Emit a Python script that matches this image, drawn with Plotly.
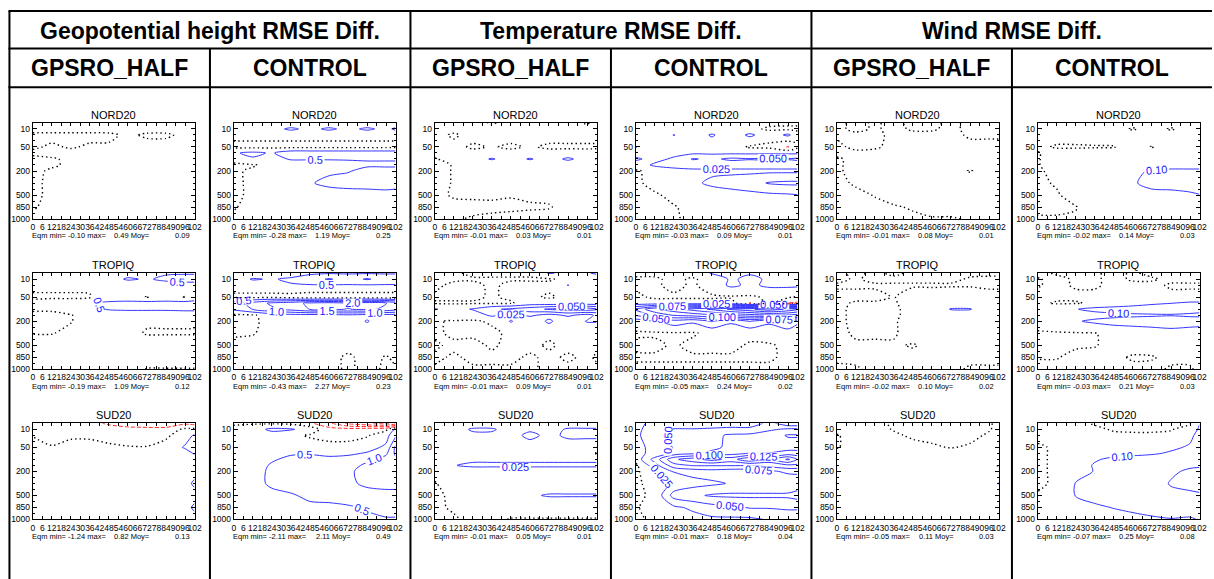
import plotly.graph_objects as go

W, H = 1214, 579
FONT = "Liberation Sans, Arial, Helvetica, sans-serif"
BLUE = "#3434ff"
RED = "#ff2a2a"

# ---------------- axes / categories ----------------
hours = [0, 12, 24, 36, 48, 60, 72, 84, 96, 102]
hour_ticks = [0, 6, 12, 18, 24, 30, 36, 42, 48, 54, 60, 66, 72, 78, 84, 90, 96, 102]
pressure_axis = [5, 10, 20, 30, 50, 70, 100, 150, 200, 250, 300, 400, 500, 700, 850, 925, 1000]
pressure_labels = [10, 50, 200, 500, 850, 1000]
pressure_grid = [5, 10, 20, 50, 70, 100, 150, 200, 300, 500, 850, 1000]

variables = ["Geopotential height RMSE Diff.", "Temperature RMSE Diff.", "Wind RMSE Diff."]
experiments = ["GPSRO_HALF", "CONTROL"]
regions = ["NORD20", "TROPIQ", "SUD20"]
contour_step = [0.5, 0.025, 0.1]
label_fmt = [".1f", ".3f", ".2f"]

# Eqm statistics  [column][region]
eqm_min = [[-0.10, -0.19, -1.24], [-0.28, -0.43, -2.11], [-0.01, -0.01, -0.01],
           [-0.03, -0.05, -0.01], [-0.01, -0.02, -0.05], [-0.02, -0.03, -0.07]]
eqm_max = [[0.49, 1.09, 0.82], [1.19, 2.27, 2.11], [0.03, 0.09, 0.05],
           [0.09, 0.24, 0.18], [0.08, 0.10, 0.11], [0.14, 0.21, 0.25]]
eqm_moy = [[0.09, 0.12, 0.13], [0.25, 0.23, 0.49], [0.01, 0.01, 0.01],
           [0.01, 0.02, 0.04], [0.01, 0.02, 0.03], [0.03, 0.03, 0.08]]

# ---------------- RMSE difference fields (rows = pressure_grid, cols = hours) ----------------
z_geo_gpsro_nord = [
    [0.10, 0.10, 0.10, 0.10, 0.10, 0.10, 0.10, 0.10, 0.10, 0.10],
    [0.10, 0.10, 0.10, 0.10, 0.10, 0.10, 0.10, 0.10, 0.10, 0.10],
    [-0.06, -0.06, -0.06, -0.06, -0.05, 0.05, -0.04, -0.04, 0.06, 0.04],
    [-0.03, 0.03, -0.02, 0.03, 0.03, 0.10, 0.10, 0.10, 0.10, 0.05],
    [0.04, 0.10, 0.06, 0.15, 0.15, 0.15, 0.15, 0.15, 0.15, 0.15],
    [-0.05, -0.03, 0.05, 0.15, 0.20, 0.20, 0.20, 0.20, 0.20, 0.20],
    [-0.06, -0.03, 0.04, 0.15, 0.20, 0.20, 0.20, 0.20, 0.20, 0.20],
    [-0.05, 0.03, 0.10, 0.15, 0.20, 0.25, 0.25, 0.20, 0.20, 0.20],
    [-0.05, 0.05, 0.15, 0.20, 0.25, 0.30, 0.30, 0.25, 0.20, 0.20],
    [-0.05, 0.05, 0.15, 0.20, 0.25, 0.30, 0.30, 0.25, 0.20, 0.20],
    [-0.02, 0.06, 0.15, 0.20, 0.20, 0.20, 0.20, 0.20, 0.20, 0.20],
    [0.05, 0.10, 0.10, 0.15, 0.15, 0.15, 0.15, 0.15, 0.15, 0.15],
]
z_geo_gpsro_trop = [
    [0.10, 0.10, 0.10, 0.10, 0.20, 0.30, 0.30, 0.45, 0.45, 0.45],
    [0.10, 0.10, 0.10, 0.20, 0.30, 0.56, 0.45, 0.60, 0.70, 0.70],
    [0.05, 0.05, 0.05, 0.05, 0.10, 0.20, 0.20, 0.30, 0.30, 0.30],
    [-0.03, -0.03, -0.03, -0.02, 0.20, 0.20, -0.02, 0.20, -0.02, 0.20],
    [0.05, 0.10, 0.10, 0.45, 0.60, 0.65, 0.70, 0.65, 0.70, 0.70],
    [0.03, 0.03, 0.10, 0.30, 0.55, 0.60, 0.60, 0.60, 0.65, 0.65],
    [-0.05, -0.05, -0.01, 0.10, 0.10, 0.10, 0.10, 0.10, 0.10, 0.10],
    [-0.05, -0.05, -0.01, 0.10, 0.10, 0.10, 0.05, 0.05, 0.05, 0.05],
    [-0.01, -0.01, 0.05, 0.10, 0.10, 0.10, -0.03, -0.03, -0.03, -0.03],
    [0.10, 0.10, 0.10, 0.15, 0.15, 0.15, 0.20, 0.20, 0.20, 0.20],
    [0.10, 0.10, 0.10, 0.15, 0.15, 0.15, 0.10, 0.10, 0.10, 0.10],
    [0.10, 0.10, 0.10, 0.10, 0.10, 0.10, -0.01, -0.01, -0.01, -0.01],
]
z_geo_gpsro_sud = [
    [-0.10, -0.20, -0.20, -0.30, -0.60, -0.80, -0.90, -0.90, -0.60, -0.70],
    [-0.05, -0.10, -0.10, -0.10, -0.20, -0.30, -0.30, -0.30, 0.10, 0.10],
    [-0.01, -0.05, -0.05, -0.05, -0.10, -0.15, -0.10, -0.10, 0.30, 0.55],
    [0.10, 0.01, 0.10, 0.10, 0.05, 0.02, 0.01, 0.20, 0.55, 0.65],
    [0.15, 0.15, 0.15, 0.15, 0.15, 0.15, 0.15, 0.20, 0.30, 0.55],
    [0.15, 0.15, 0.15, 0.15, 0.15, 0.15, 0.15, 0.20, 0.20, 0.30],
    [0.15, 0.15, 0.15, 0.15, 0.15, 0.15, 0.15, 0.20, 0.20, 0.20],
    [0.15, 0.15, 0.15, 0.15, 0.15, 0.15, 0.15, 0.20, 0.20, 0.30],
    [0.15, 0.15, 0.15, 0.15, 0.15, 0.15, 0.15, 0.20, 0.30, 0.60],
    [0.15, 0.15, 0.15, 0.15, 0.15, 0.15, 0.15, 0.20, 0.30, 0.30],
    [0.15, 0.15, 0.15, 0.15, 0.15, 0.15, 0.15, 0.20, 0.30, 0.60],
    [0.15, 0.15, 0.15, 0.15, 0.15, 0.15, 0.15, 0.20, 0.30, 0.30],
]
z_geo_ctrl_nord = [
    [0.10, 0.10, 0.10, 0.10, 0.10, 0.10, 0.10, 0.10, 0.10, 0.10],
    [0.10, 0.10, 0.30, 0.60, 0.35, 0.60, 0.35, 0.60, 0.35, 0.60],
    [0.10, 0.10, 0.10, 0.10, 0.10, 0.10, 0.10, 0.10, 0.10, 0.10],
    [-0.10, -0.10, -0.10, -0.10, -0.10, -0.10, -0.10, -0.10, -0.10, -0.10],
    [0.45, 0.60, 0.45, 0.80, 0.80, 0.80, 0.80, 0.80, 0.80, 0.80],
    [0.10, 0.45, 0.30, 0.55, 0.55, 0.55, 0.55, 0.55, 0.55, 0.55],
    [-0.05, -0.03, 0.10, 0.20, 0.20, 0.20, 0.30, 0.40, 0.40, 0.40],
    [-0.05, 0.05, 0.10, 0.20, 0.30, 0.40, 0.45, 0.70, 0.70, 0.70],
    [-0.05, 0.05, 0.15, 0.30, 0.45, 0.65, 0.80, 0.90, 0.90, 0.90],
    [-0.05, 0.05, 0.15, 0.20, 0.30, 0.20, 0.15, 0.10, 0.20, 0.10],
    [-0.02, 0.08, 0.15, 0.20, 0.20, 0.20, 0.20, 0.20, 0.20, 0.20],
    [0.05, 0.10, 0.10, 0.15, 0.15, 0.15, 0.15, 0.15, 0.15, 0.15],
]
z_geo_ctrl_trop = [
    [0.10, 0.10, 0.10, 0.20, 0.40, 0.45, 0.45, 0.45, 0.45, 0.45],
    [0.20, 0.55, 0.45, 0.60, 0.80, 1.05, 0.80, 1.05, 0.80, 0.80],
    [0.10, 0.20, 0.20, 0.45, 0.47, 0.47, 0.47, 0.47, 0.47, 0.47],
    [-0.05, -0.10, -0.10, -0.20, -0.30, -0.30, -0.30, -0.30, -0.30, -0.30],
    [0.70, 1.20, 1.60, 1.80, 2.10, 2.20, 2.10, 2.25, 2.02, 1.80],
    [0.60, 1.02, 1.40, 1.70, 2.02, 2.10, 1.98, 2.10, 1.90, 1.70],
    [-0.10, -0.05, 0.20, 0.30, 0.30, 0.30, 0.40, 0.30, 0.30, 0.30],
    [-0.10, -0.05, 0.10, 0.10, 0.10, 0.10, 0.10, 0.55, 0.10, 0.10],
    [-0.05, -0.02, 0.10, 0.10, 0.10, 0.10, 0.10, 0.10, 0.10, 0.10],
    [0.10, 0.10, 0.10, 0.10, 0.10, 0.10, 0.10, 0.10, 0.10, 0.10],
    [0.10, 0.10, 0.10, 0.10, 0.10, 0.10, -0.05, 0.10, -0.02, 0.05],
    [0.10, 0.10, 0.10, 0.10, 0.10, 0.10, -0.05, 0.10, -0.05, -0.02],
]
z_geo_ctrl_sud = [
    [-0.05, -0.05, -0.05, -0.10, -0.40, -0.90, -1.60, -1.95, -2.10, -1.80],
    [0.10, 0.30, 0.60, 0.55, 0.30, -0.30, -0.30, -0.20, -0.10, 0.60],
    [0.10, 0.20, 0.30, 0.10, -0.05, -0.10, -0.10, -0.05, 0.30, 0.90],
    [0.10, 0.10, 0.20, 0.30, 0.20, 0.10, 0.10, 0.30, 0.60, 1.60],
    [0.20, 0.30, 0.30, 0.45, 0.45, 0.40, 0.40, 0.55, 0.90, 1.60],
    [0.20, 0.30, 0.45, 0.60, 0.70, 0.60, 0.70, 0.90, 1.20, 1.40],
    [0.20, 0.30, 0.55, 0.70, 0.80, 0.80, 0.80, 1.10, 1.30, 1.40],
    [0.20, 0.30, 0.60, 0.70, 0.80, 0.80, 0.90, 1.20, 1.30, 1.30],
    [0.20, 0.30, 0.60, 0.70, 0.80, 0.80, 0.90, 1.10, 1.20, 1.20],
    [0.20, 0.30, 0.35, 0.45, 0.60, 0.65, 0.70, 0.80, 0.80, 0.80],
    [0.20, 0.20, 0.20, 0.30, 0.40, 0.40, 0.45, 0.55, 0.70, 0.70],
    [0.20, 0.20, 0.20, 0.20, 0.30, 0.30, 0.30, 0.40, 0.45, 0.45],
]
z_tmp_gpsro_nord = [
    [0.010, 0.010, 0.010, -0.003, 0.010, 0.010, 0.010, 0.010, -0.003, 0.010],
    [0.010, 0.010, 0.010, 0.010, 0.010, 0.010, 0.010, 0.010, 0.010, 0.010],
    [0.010, -0.004, 0.010, 0.010, 0.010, 0.010, 0.010, 0.010, 0.010, 0.010],
    [0.008, 0.008, -0.004, 0.002, -0.004, 0.003, -0.004, -0.004, -0.004, -0.004],
    [0.008, 0.010, 0.008, 0.010, 0.008, 0.010, 0.008, 0.010, 0.008, 0.010],
    [-0.002, 0.010, 0.015, 0.027, 0.015, 0.027, 0.015, 0.029, 0.015, 0.027],
    [-0.005, 0.001, 0.010, 0.010, 0.010, 0.010, 0.010, 0.010, 0.010, 0.010],
    [-0.005, 0.001, 0.008, 0.008, 0.008, 0.008, 0.008, 0.008, 0.008, 0.008],
    [-0.005, 0.001, 0.008, 0.008, 0.008, 0.008, 0.008, 0.008, 0.008, 0.008],
    [-0.005, 0.002, 0.003, 0.003, 0.001, 0.003, 0.003, 0.006, 0.006, 0.006],
    [-0.005, -0.005, -0.005, -0.004, -0.003, -0.002, -0.001, 0.005, 0.005, 0.005],
    [-0.005, -0.002, 0.002, 0.004, 0.005, 0.006, 0.006, 0.006, 0.006, 0.006],
]
z_tmp_gpsro_trop = [
    [-0.003, -0.003, 0.004, 0.004, 0.004, 0.004, 0.027, 0.020, 0.022, 0.030],
    [-0.003, -0.003, -0.002, -0.002, -0.002, -0.002, -0.002, 0.005, 0.005, 0.005],
    [-0.004, 0.004, 0.004, -0.003, 0.004, 0.004, 0.004, 0.026, 0.005, 0.005],
    [0.003, 0.003, 0.003, -0.002, 0.003, 0.003, -0.002, 0.004, 0.004, 0.004],
    [-0.002, -0.002, -0.002, -0.002, -0.002, 0.010, 0.010, 0.010, 0.010, 0.010],
    [0.027, 0.015, 0.027, 0.045, 0.055, 0.065, 0.078, 0.085, 0.090, 0.080],
    [0.010, 0.020, 0.010, 0.030, 0.015, 0.030, 0.015, 0.030, 0.015, 0.030],
    [0.002, -0.002, -0.002, 0.002, 0.027, 0.005, 0.030, 0.005, 0.027, 0.027],
    [0.003, -0.003, -0.003, -0.003, 0.003, 0.003, 0.003, 0.003, 0.003, 0.003],
    [-0.002, 0.003, 0.004, -0.002, 0.004, 0.004, -0.002, 0.004, 0.004, 0.004],
    [0.003, -0.002, 0.003, 0.003, 0.003, -0.002, 0.003, -0.002, 0.003, -0.002],
    [-0.002, -0.002, -0.002, -0.002, -0.002, -0.002, 0.003, 0.003, 0.003, 0.003],
]
z_tmp_gpsro_sud = [
    [0.010, 0.010, 0.010, 0.010, 0.010, 0.010, 0.010, 0.010, 0.010, 0.010],
    [0.010, 0.015, 0.028, 0.028, 0.015, 0.020, 0.015, 0.028, 0.028, 0.028],
    [0.010, 0.015, 0.020, 0.020, 0.015, 0.032, 0.018, 0.030, 0.030, 0.030],
    [0.010, 0.010, 0.010, 0.010, 0.010, 0.012, 0.010, 0.012, 0.012, 0.012],
    [0.010, 0.010, 0.010, 0.010, 0.010, 0.010, 0.010, 0.010, 0.005, -0.002],
    [0.008, 0.015, 0.020, 0.020, 0.020, 0.020, 0.020, 0.020, 0.020, 0.020],
    [0.005, 0.024, 0.030, 0.030, 0.030, 0.030, 0.030, 0.030, 0.030, 0.030],
    [0.005, 0.010, 0.010, 0.010, 0.010, 0.010, 0.010, 0.010, 0.010, 0.010],
    [-0.001, 0.008, 0.010, 0.010, 0.010, 0.010, 0.010, 0.010, 0.010, 0.010],
    [-0.004, 0.004, 0.008, 0.008, 0.008, 0.022, 0.027, 0.027, 0.027, 0.027],
    [-0.003, 0.002, 0.008, 0.008, 0.008, 0.008, 0.008, 0.008, 0.008, 0.008],
    [-0.004, -0.002, 0.004, 0.004, -0.001, -0.001, -0.001, -0.001, -0.001, -0.001],
]
z_tmp_ctrl_nord = [
    [0.005, 0.005, 0.005, 0.005, 0.005, 0.005, 0.005, 0.005, 0.005, 0.005],
    [0.005, 0.005, 0.005, 0.005, 0.005, 0.005, 0.005, -0.003, -0.005, -0.005],
    [0.005, 0.005, 0.026, 0.010, 0.028, 0.010, 0.030, 0.010, 0.030, 0.010],
    [0.026, 0.010, 0.010, 0.010, 0.010, 0.010, -0.003, -0.005, -0.027, -0.005],
    [0.010, 0.010, 0.015, 0.020, 0.020, 0.020, 0.020, 0.020, 0.020, 0.020],
    [0.030, 0.015, 0.030, 0.052, 0.045, 0.055, 0.052, 0.055, 0.052, 0.055],
    [0.010, 0.030, 0.030, 0.035, 0.035, 0.035, 0.035, 0.035, 0.035, 0.035],
    [-0.002, 0.005, 0.020, 0.020, 0.020, 0.020, 0.020, 0.020, 0.020, 0.020],
    [-0.003, 0.005, 0.010, 0.020, 0.030, 0.035, 0.040, 0.052, 0.055, 0.055],
    [-0.003, -0.002, 0.004, 0.010, 0.012, 0.015, 0.018, 0.020, 0.022, 0.024],
    [-0.003, -0.003, -0.001, 0.004, 0.008, 0.008, 0.008, 0.008, 0.008, 0.008],
    [-0.003, -0.003, -0.002, 0.004, 0.008, 0.008, 0.008, 0.008, 0.008, 0.008],
]
z_tmp_ctrl_trop = [
    [0.005, 0.005, 0.005, 0.010, 0.027, 0.027, 0.027, 0.030, 0.030, 0.030],
    [-0.003, -0.003, 0.005, -0.003, 0.010, 0.028, 0.020, 0.028, 0.030, 0.030],
    [-0.003, -0.003, 0.005, -0.003, 0.010, 0.030, 0.020, 0.030, 0.030, 0.030],
    [0.004, -0.003, -0.003, -0.003, -0.003, -0.003, -0.003, 0.003, 0.003, -0.003],
    [0.010, 0.010, 0.010, 0.010, 0.010, 0.010, -0.027, 0.010, -0.026, -0.030],
    [0.080, 0.120, 0.140, 0.160, 0.180, 0.205, 0.220, 0.240, 0.220, 0.205],
    [0.052, 0.080, 0.102, 0.110, 0.120, 0.130, 0.140, 0.148, 0.148, 0.140],
    [0.010, 0.020, 0.040, 0.030, 0.052, 0.030, 0.052, 0.030, 0.052, 0.030],
    [-0.002, -0.002, -0.002, -0.002, 0.005, 0.005, 0.005, 0.010, 0.010, 0.010],
    [0.003, 0.003, -0.002, 0.004, 0.004, 0.004, -0.002, -0.002, 0.004, 0.004],
    [-0.002, -0.002, -0.002, -0.002, -0.002, -0.002, -0.002, -0.002, 0.003, 0.003],
    [0.003, 0.003, 0.003, 0.003, 0.003, 0.003, 0.003, 0.003, 0.003, 0.003],
]
z_tmp_ctrl_sud = [
    [0.020, 0.030, 0.030, 0.030, 0.030, 0.030, 0.030, 0.060, 0.030, 0.030],
    [0.020, 0.035, 0.052, 0.052, 0.055, 0.060, 0.060, 0.070, 0.080, 0.080],
    [0.020, 0.040, 0.060, 0.070, 0.070, 0.078, 0.080, 0.090, 0.102, 0.102],
    [0.020, 0.030, 0.052, 0.060, 0.070, 0.080, 0.080, 0.080, 0.090, 0.090],
    [0.020, 0.030, 0.060, 0.070, 0.080, 0.090, 0.102, 0.102, 0.110, 0.110],
    [0.010, 0.060, 0.120, 0.140, 0.160, 0.140, 0.170, 0.140, 0.180, 0.148],
    [-0.005, 0.040, 0.090, 0.102, 0.102, 0.102, 0.102, 0.110, 0.120, 0.120],
    [-0.005, 0.020, 0.052, 0.060, 0.065, 0.060, 0.060, 0.070, 0.080, 0.080],
    [-0.005, 0.010, 0.030, 0.040, 0.045, 0.052, 0.052, 0.052, 0.055, 0.060],
    [-0.005, 0.005, 0.060, 0.070, 0.078, 0.080, 0.080, 0.080, 0.080, 0.085],
    [-0.002, 0.008, 0.020, 0.030, 0.040, 0.045, 0.052, 0.052, 0.055, 0.055],
    [-0.003, 0.003, 0.010, 0.015, 0.020, 0.020, 0.020, 0.027, 0.030, 0.030],
]
z_wnd_gpsro_nord = [
    [-0.010, 0.010, -0.005, 0.010, -0.010, -0.010, 0.010, -0.010, -0.010, -0.010],
    [-0.010, 0.010, -0.005, 0.010, -0.005, -0.005, 0.010, -0.010, -0.010, -0.010],
    [-0.005, -0.010, -0.010, 0.010, 0.010, 0.010, 0.010, -0.005, -0.005, -0.005],
    [0.010, -0.010, -0.005, 0.010, 0.010, 0.010, 0.010, 0.010, 0.010, 0.010],
    [0.010, 0.010, 0.010, 0.020, 0.020, 0.020, 0.020, 0.020, 0.020, 0.020],
    [-0.005, 0.010, 0.020, 0.020, 0.020, 0.020, 0.020, 0.020, 0.020, 0.020],
    [-0.005, 0.010, 0.020, 0.030, 0.030, 0.030, 0.030, 0.030, 0.030, 0.030],
    [-0.005, 0.010, 0.020, 0.030, 0.030, 0.030, 0.030, -0.005, 0.030, 0.030],
    [-0.010, 0.005, 0.020, 0.030, 0.040, 0.040, 0.040, 0.040, 0.040, 0.040],
    [-0.010, -0.010, 0.002, 0.020, 0.030, 0.040, 0.040, 0.040, 0.040, 0.040],
    [-0.010, -0.010, -0.010, -0.005, 0.005, 0.020, 0.020, 0.020, 0.020, 0.020],
    [-0.010, -0.010, -0.010, -0.010, -0.010, -0.005, -0.005, 0.005, 0.005, 0.005],
]
z_wnd_gpsro_trop = [
    [0.010, -0.010, 0.010, -0.010, 0.010, 0.010, 0.010, 0.010, 0.010, 0.010],
    [0.010, -0.005, 0.010, 0.010, 0.010, 0.010, 0.010, -0.005, -0.010, -0.010],
    [-0.005, -0.005, -0.005, -0.005, -0.005, -0.005, -0.005, -0.005, -0.010, -0.010],
    [0.010, 0.010, 0.010, -0.002, 0.020, 0.020, 0.030, 0.030, 0.020, 0.020],
    [0.010, -0.005, -0.005, -0.005, 0.020, 0.030, 0.050, 0.050, 0.030, 0.020],
    [0.010, -0.010, -0.010, -0.010, 0.020, 0.040, 0.105, 0.105, 0.040, 0.030],
    [0.010, -0.010, -0.010, -0.010, 0.020, 0.030, 0.050, 0.050, 0.030, 0.020],
    [0.010, -0.010, -0.010, -0.005, 0.020, 0.020, 0.020, 0.020, 0.020, 0.020],
    [0.010, -0.005, -0.005, -0.005, 0.020, 0.020, 0.020, 0.020, 0.020, 0.020],
    [0.010, 0.005, 0.005, 0.005, -0.003, 0.010, 0.010, 0.010, 0.010, 0.010],
    [0.010, 0.010, 0.010, 0.010, 0.010, 0.010, 0.010, 0.010, 0.010, 0.010],
    [-0.010, -0.005, 0.010, 0.010, 0.010, 0.010, 0.010, -0.005, -0.005, -0.005],
]
z_wnd_gpsro_sud = [
    [0.010, 0.010, 0.010, -0.005, -0.010, -0.010, -0.010, -0.010, -0.005, 0.010],
    [0.010, 0.010, 0.010, -0.002, -0.010, -0.010, -0.010, -0.010, -0.003, 0.010],
    [-0.002, 0.010, 0.010, 0.005, -0.005, -0.010, -0.010, -0.010, 0.005, 0.010],
    [-0.002, 0.010, 0.010, 0.010, 0.010, 0.005, -0.002, 0.005, 0.010, 0.010],
    [0.010, 0.010, 0.020, 0.020, 0.020, 0.020, 0.020, 0.020, 0.020, 0.020],
    [0.010, 0.020, 0.020, 0.030, 0.030, 0.030, 0.030, 0.030, 0.030, 0.020],
    [0.010, 0.020, 0.030, 0.030, 0.030, 0.030, 0.030, 0.030, 0.020, -0.005],
    [0.010, 0.020, 0.030, 0.040, 0.040, 0.040, 0.040, 0.040, 0.040, 0.050],
    [0.010, 0.020, 0.030, 0.040, 0.040, 0.040, 0.040, 0.040, 0.050, 0.105],
    [0.010, 0.020, 0.030, 0.040, 0.040, 0.040, 0.040, 0.040, 0.050, 0.050],
    [0.010, 0.020, 0.030, 0.030, 0.030, 0.030, 0.030, 0.030, 0.030, 0.030],
    [0.010, 0.020, 0.020, 0.020, 0.020, 0.020, 0.020, 0.020, 0.020, 0.020],
]
z_wnd_ctrl_nord = [
    [0.020, 0.020, 0.020, 0.020, 0.020, 0.020, 0.020, 0.020, 0.020, 0.020],
    [0.020, 0.020, 0.020, 0.020, 0.020, -0.005, 0.020, -0.005, 0.020, 0.020],
    [0.020, 0.020, 0.020, 0.020, 0.020, 0.020, 0.020, 0.020, 0.020, 0.020],
    [0.010, -0.005, -0.005, -0.003, -0.002, 0.020, -0.002, 0.020, 0.020, 0.020],
    [-0.003, 0.020, 0.020, 0.020, 0.020, 0.020, 0.020, 0.020, 0.020, 0.020],
    [-0.003, 0.020, 0.020, 0.030, 0.030, 0.040, 0.040, 0.050, 0.050, 0.050],
    [-0.003, 0.020, 0.030, 0.040, 0.050, 0.060, 0.070, 0.080, 0.080, 0.080],
    [-0.005, 0.010, 0.030, 0.050, 0.060, 0.090, 0.105, 0.110, 0.110, 0.110],
    [-0.010, 0.005, 0.030, 0.050, 0.060, 0.090, 0.130, 0.140, 0.130, 0.130],
    [-0.010, -0.005, 0.020, 0.040, 0.050, 0.060, 0.070, 0.070, 0.090, 0.098],
    [-0.010, -0.010, -0.002, 0.020, 0.030, 0.030, 0.030, 0.030, 0.030, 0.030],
    [0.005, 0.005, 0.005, 0.020, 0.020, 0.020, 0.020, 0.020, 0.020, 0.020],
]
z_wnd_ctrl_trop = [
    [0.010, -0.005, -0.005, -0.005, 0.010, -0.005, 0.010, 0.010, 0.010, 0.010],
    [-0.003, 0.010, -0.005, -0.005, 0.010, -0.005, -0.005, 0.010, 0.010, 0.010],
    [-0.003, 0.010, -0.005, -0.005, 0.010, 0.010, 0.010, -0.005, -0.005, -0.005],
    [0.010, 0.010, 0.010, 0.010, 0.010, 0.010, 0.010, 0.010, 0.010, 0.010],
    [0.010, -0.005, -0.005, 0.010, 0.020, 0.050, 0.080, 0.098, 0.120, 0.120],
    [0.020, 0.040, 0.095, 0.130, 0.150, 0.160, 0.170, 0.160, 0.150, 0.130],
    [0.020, 0.030, 0.050, 0.060, 0.070, 0.080, 0.085, 0.090, 0.080, 0.080],
    [0.020, 0.040, 0.090, 0.120, 0.140, 0.150, 0.160, 0.190, 0.160, 0.150],
    [-0.005, -0.005, -0.005, -0.003, 0.020, 0.030, 0.040, 0.040, 0.040, 0.040],
    [-0.010, -0.010, -0.005, -0.002, 0.010, 0.020, 0.020, 0.020, 0.020, 0.020],
    [-0.002, -0.002, 0.010, 0.010, 0.010, -0.005, -0.003, 0.010, 0.010, 0.010],
    [0.010, 0.010, 0.010, 0.010, 0.010, 0.010, 0.010, -0.005, -0.005, 0.010],
]
z_wnd_ctrl_sud = [
    [0.020, 0.020, 0.010, -0.005, -0.010, -0.010, -0.010, -0.010, -0.005, 0.095],
    [0.020, 0.020, 0.020, 0.010, -0.005, -0.005, -0.005, -0.003, 0.020, 0.120],
    [0.020, 0.020, 0.020, 0.020, 0.010, 0.005, 0.005, 0.010, 0.080, 0.130],
    [-0.010, 0.010, 0.030, 0.040, 0.050, 0.060, 0.070, 0.085, 0.110, 0.140],
    [-0.010, 0.010, 0.030, 0.050, 0.070, 0.080, 0.090, 0.110, 0.130, 0.150],
    [-0.010, 0.010, 0.040, 0.090, 0.120, 0.130, 0.140, 0.150, 0.150, 0.150],
    [-0.010, 0.010, 0.050, 0.110, 0.140, 0.150, 0.150, 0.140, 0.120, 0.110],
    [-0.010, 0.010, 0.060, 0.105, 0.140, 0.150, 0.150, 0.120, 0.080, 0.080],
    [-0.010, 0.010, 0.105, 0.130, 0.150, 0.160, 0.160, 0.090, 0.070, 0.070],
    [0.005, 0.030, 0.105, 0.140, 0.160, 0.170, 0.170, 0.130, 0.120, 0.110],
    [0.010, 0.030, 0.050, 0.080, 0.105, 0.130, 0.150, 0.150, 0.140, 0.140],
    [0.010, 0.020, 0.030, 0.040, 0.050, 0.060, 0.080, 0.095, 0.090, 0.105],
]

panel_z = [
    [z_geo_gpsro_nord, z_geo_gpsro_trop, z_geo_gpsro_sud],
    [z_geo_ctrl_nord, z_geo_ctrl_trop, z_geo_ctrl_sud],
    [z_tmp_gpsro_nord, z_tmp_gpsro_trop, z_tmp_gpsro_sud],
    [z_tmp_ctrl_nord, z_tmp_ctrl_trop, z_tmp_ctrl_sud],
    [z_wnd_gpsro_nord, z_wnd_gpsro_trop, z_wnd_gpsro_sud],
    [z_wnd_ctrl_nord, z_wnd_ctrl_trop, z_wnd_ctrl_sud],
]

# ---------------- layout geometry (pixels) ----------------
col_line = [7.5 + 202 * c for c in range(6)]
box_right = [194 + 202.5 * c for c in range(6)]
box_w = 163
box_top = [124, 275.5, 427]
box_h = 97
row_lines = [11, 49, 88]


def px(x):
    return x / W


def py(y):
    return 1 - y / H


y_grid_idx = [pressure_axis.index(p) for p in pressure_grid]
y_major = [pressure_axis.index(p) for p in pressure_labels]
y_minor = [i for i in range(1, len(pressure_axis)) if i not in y_major]

fig = go.Figure()
annotations = []
axes = {}

k = 0
for c in range(6):
    v = c // 2
    step = contour_step[v]
    for r in range(3):
        k += 1
        xa = "x" if k == 1 else f"x{k}"
        ya = "y" if k == 1 else f"y{k}"
        z = panel_z[c][r]
        common = dict(x=hours, y=y_grid_idx, z=z, xaxis=xa, yaxis=ya,
                      showscale=False, hoverinfo="skip", autocontour=False)
        # zero contour: dotted black
        fig.add_trace(go.Contour(
            **common,
            contours=dict(start=0, end=0, size=step, coloring="none"),
            line=dict(color="black", width=1.4, dash="1.4px,3px", smoothing=0.8)))
        # positive contours: blue
        fig.add_trace(go.Contour(
            **common,
            contours=dict(start=step, end=step * 14, size=step, coloring="none",
                          showlabels=True, labelformat=label_fmt[v],
                          labelfont=dict(family=FONT, size=11, color="#1a1aff")),
            line=dict(color=BLUE, width=1, smoothing=0.8)))
        # negative contours: red dashed
        fig.add_trace(go.Contour(
            **common,
            contours=dict(start=-step * 14, end=-step, size=step, coloring="none",
                          showlabels=True, labelformat=label_fmt[v],
                          labelfont=dict(family=FONT, size=11, color=RED)),
            line=dict(color=RED, width=1, dash="4px,2px", smoothing=0.8)))

        left = box_right[c] - box_w
        right = box_right[c]
        top = box_top[r]
        bottom = top + box_h
        xname = "xaxis" if k == 1 else f"xaxis{k}"
        yname = "yaxis" if k == 1 else f"yaxis{k}"
        axes[xname] = dict(
            domain=[px(left), px(right)], anchor=ya, range=[0, 102],
            tickmode="array", tickvals=hour_ticks, ticktext=[str(h) for h in hour_ticks],
            tickangle=0, ticks="inside", ticklen=3, tickcolor="black", tickwidth=1,
            showline=True, linecolor="black", linewidth=1, mirror="allticks",
            showgrid=False, zeroline=False, fixedrange=True,
            tickfont=dict(family=FONT, size=8.5, color="black"))
        axes[yname] = dict(
            domain=[py(bottom), py(top)], anchor=xa, range=[16, 0],
            tickmode="array", tickvals=y_major, ticktext=[str(p) for p in pressure_labels],
            ticks="inside", ticklen=4, tickcolor="black", tickwidth=1,
            minor=dict(tickmode="array", tickvals=y_minor, ticks="inside", ticklen=2,
                       tickcolor="black", tickwidth=1),
            showline=True, linecolor="black", linewidth=1, mirror="allticks",
            showgrid=False, zeroline=False, fixedrange=True,
            tickfont=dict(family=FONT, size=8.5, color="black"))

        # panel title
        annotations.append(dict(x=px((left + right) / 2), y=py(top - 8), xref="paper", yref="paper",
                                text=regions[r], showarrow=False, xanchor="center", yanchor="middle",
                                font=dict(family=FONT, size=11, color="black")))
        # statistics line
        sy = py(bottom + 17)
        sfont = dict(family=FONT, size=7.5, color="black")
        annotations.append(dict(x=px(left - 3), y=sy, xref="paper", yref="paper",
                                text=f"Eqm min=\u00a0{eqm_min[c][r]:.2f} max=",
                                showarrow=False, xanchor="left", yanchor="middle", font=sfont))
        annotations.append(dict(x=px(left + 120), y=sy, xref="paper", yref="paper",
                                text=f"{eqm_max[c][r]:.2f} Moy=", showarrow=False,
                                xanchor="right", yanchor="middle", font=sfont))
        annotations.append(dict(x=px(left + 160), y=sy, xref="paper", yref="paper",
                                text=f"{eqm_moy[c][r]:.2f}", showarrow=False,
                                xanchor="right", yanchor="middle", font=sfont))

# table headers
for i, name in enumerate(variables):
    annotations.append(dict(x=px(col_line[2 * i] + 202), y=py(31), xref="paper", yref="paper",
                            text=f"<b>{name}</b>", showarrow=False, xanchor="center", yanchor="middle",
                            font=dict(family=FONT, size=23, color="black")))
for c in range(6):
    annotations.append(dict(x=px(col_line[c] + 101), y=py(69), xref="paper", yref="paper",
                            text=f"<b>{experiments[c % 2]}</b>", showarrow=False, xanchor="center",
                            yanchor="middle", font=dict(family=FONT, size=23, color="black")))

# table grid lines
shapes = []
lw = 2
for yl in row_lines:
    shapes.append(dict(type="line", xref="paper", yref="paper", x0=px(col_line[0] - 1), x1=px(W + 5),
                       y0=py(yl), y1=py(yl), line=dict(color="black", width=lw)))
for c in range(6):
    y_start = row_lines[0] if c % 2 == 0 else row_lines[1]
    shapes.append(dict(type="line", xref="paper", yref="paper", x0=px(col_line[c]), x1=px(col_line[c]),
                       y0=py(y_start), y1=py(H + 5), line=dict(color="black", width=lw)))

fig.update_layout(
    width=W, height=H, margin=dict(l=0, r=0, t=0, b=0),
    paper_bgcolor="white", plot_bgcolor="white", showlegend=False,
    annotations=annotations, shapes=shapes, **axes)

fig.write_html("out.html")
